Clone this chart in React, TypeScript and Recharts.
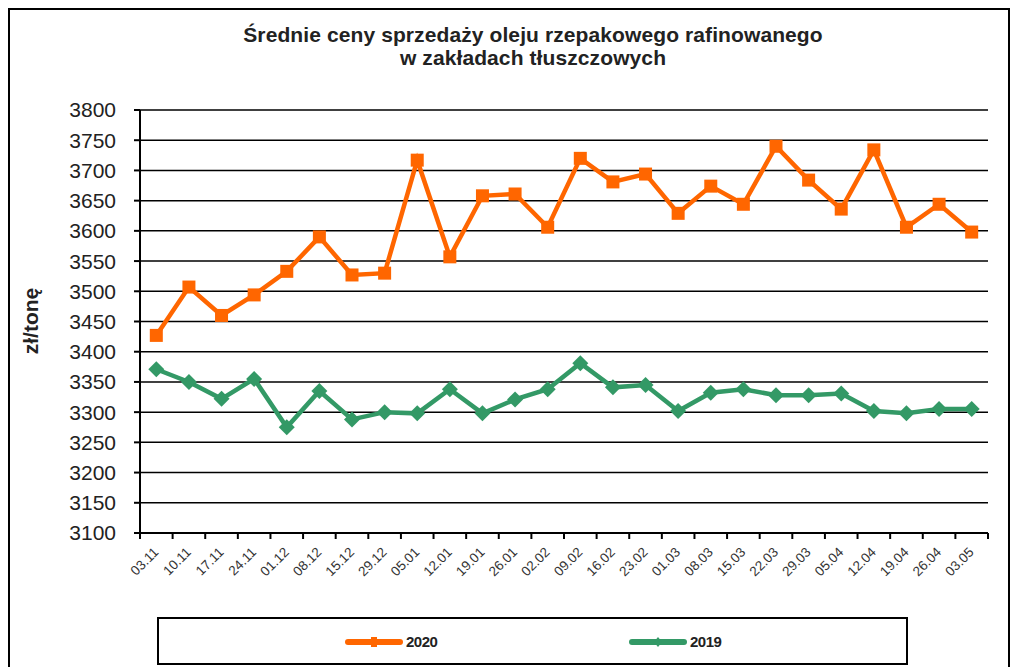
import { CartesianGrid, Line, LineChart, XAxis, YAxis } from "recharts";

const categories = [
  "03.11", "10.11", "17.11", "24.11", "01.12", "08.12", "15.12", "29.12",
  "05.01", "12.01", "19.01", "26.01", "02.02", "09.02", "16.02", "23.02",
  "01.03", "08.03", "15.03", "22.03", "29.03", "05.04", "12.04", "19.04",
  "26.04", "03.05",
];

const prices2020 = [
  3427, 3507, 3460, 3494, 3533, 3590, 3527, 3530, 3717, 3557, 3658, 3661,
  3606, 3720, 3681, 3694, 3629, 3674, 3644, 3740, 3684, 3636, 3734, 3606,
  3644, 3598,
];

const prices2019 = [
  3371, 3350, 3322, 3355, 3275, 3335, 3288, 3300, 3298, 3338, 3298, 3321,
  3338, 3381, 3341, 3345, 3302, 3332, 3338, 3328, 3328, 3331, 3302, 3298,
  3305, 3305,
];

const yTicks = [
  3100, 3150, 3200, 3250, 3300, 3350, 3400, 3450, 3500, 3550, 3600, 3650,
  3700, 3750, 3800,
];

const titleLines = [
  "Średnie ceny sprzedaży oleju rzepakowego rafinowanego",
  "w zakładach tłuszczowych",
];

const ORANGE = "#ff6600";
const GREEN = "#339966";
const FONT = '"Liberation Sans", Arial, sans-serif';

const data = categories.map((week, i) => ({
  week,
  y2020: prices2020[i],
  y2019: prices2019[i],
}));

// half of one category band (plot width 848 / 26 categories)
const HALF_BAND = 848 / 26 / 2;

function XTick(props: any) {
  const { x, y, payload, index } = props;
  const tx = x + 3;
  const ty = y + 20;
  return (
    <g>
      <line x1={x - HALF_BAND} y1={y} x2={x - HALF_BAND} y2={y + 6} stroke="#000" strokeWidth={2} />
      {index === categories.length - 1 && (
        <line x1={x + HALF_BAND} y1={y} x2={x + HALF_BAND} y2={y + 6} stroke="#000" strokeWidth={2} />
      )}
      <text
        x={tx}
        y={ty}
        transform={`rotate(-45 ${tx} ${ty})`}
        textAnchor="end"
        fontSize={13.5}
        fontFamily={FONT}
        fill="#333"
      >
        {payload.value}
      </text>
    </g>
  );
}

function SquareDot(props: any) {
  const { cx, cy, index } = props;
  if (cx == null || cy == null) return null;
  return <rect key={`sq-${index}`} x={cx - 6.5} y={cy - 6.5} width={13} height={13} fill={ORANGE} />;
}

function DiamondDot(props: any) {
  const { cx, cy, index } = props;
  if (cx == null || cy == null) return null;
  const r = 8;
  return (
    <polygon
      key={`dm-${index}`}
      points={`${cx},${cy - r} ${cx + r},${cy} ${cx},${cy + r} ${cx - r},${cy}`}
      fill={GREEN}
    />
  );
}

function LegendItem({ color, label, square }: { color: string; label: string; square: boolean }) {
  return (
    <div style={{ display: "flex", alignItems: "center" }}>
      <svg width={58} height={14}>
        <line x1={3} y1={7} x2={55} y2={7} stroke={color} strokeWidth={6} strokeLinecap="round" />
        {square ? (
          <rect x={26} y={2} width={6} height={10} fill={color} />
        ) : (
          <polygon points="29,2 33,7 29,12 25,7" fill={color} />
        )}
      </svg>
      <span style={{ fontWeight: "bold", fontSize: 15, marginLeft: 3, color: "#222", letterSpacing: -0.5 }}>
        {label}
      </span>
    </div>
  );
}

export default function App() {
  return (
    <div
      style={{
        position: "fixed",
        left: 0,
        top: 0,
        width: 1014,
        height: 667,
        background: "#fff",
        fontFamily: FONT,
        overflow: "hidden",
      }}
    >
      <div
        style={{
          position: "absolute",
          left: 8,
          top: 8,
          width: 1002,
          height: 720,
          border: "2px solid #000",
          boxSizing: "border-box",
        }}
      />
      <div
        style={{
          position: "absolute",
          left: 183,
          top: 23,
          width: 700,
          textAlign: "center",
          fontWeight: "bold",
          fontSize: 21,
          lineHeight: "23px",
          color: "#222",
          letterSpacing: 0.1,
        }}
      >
        {titleLines.map((t) => (
          <div key={t}>{t}</div>
        ))}
      </div>
      <div style={{ position: "absolute", left: 0, top: 0 }}>
        <LineChart width={1014} height={667} data={data} margin={{ top: 110, right: 26, bottom: 74, left: 80 }}>
          <CartesianGrid horizontal vertical={false} stroke="#000" strokeWidth={1.5} />
          <XAxis
            dataKey="week"
            height={60}
            interval={0}
            padding={{ left: HALF_BAND, right: HALF_BAND }}
            tickSize={0}
            tickMargin={0}
            tickLine={false}
            axisLine={{ stroke: "#000", strokeWidth: 2 }}
            tick={<XTick />}
          />
          <XAxis xAxisId="top" orientation="top" dataKey="week" height={0} tick={false} tickLine={false} axisLine={{ stroke: "#8c8c8c", strokeWidth: 2 }} />
          <YAxis
            domain={[3100, 3800]}
            ticks={yTicks}
            interval={0}
            width={60}
            tickSize={6}
            tickMargin={18}
            tickLine={{ stroke: "#000", strokeWidth: 2 }}
            axisLine={{ stroke: "#000", strokeWidth: 2 }}
            tick={{ fontSize: 21, fill: "#222", fontFamily: FONT }}
            label={{
              content: () => (
                <text
                  x={38}
                  y={321}
                  transform="rotate(-90 38 321)"
                  textAnchor="middle"
                  fontSize={21}
                  fontWeight="bold"
                  fontFamily={FONT}
                  fill="#222"
                >
                  zł/tonę
                </text>
              ),
            }}
          />
          <YAxis yAxisId="right" orientation="right" width={0} domain={[3100, 3800]} tick={false} tickLine={false} axisLine={{ stroke: "#8c8c8c", strokeWidth: 2 }} />
          <Line
            type="linear"
            dataKey="y2020"
            name="2020"
            stroke={ORANGE}
            strokeWidth={4.5}
            dot={<SquareDot />}
            activeDot={false}
            isAnimationActive={false}
          />
          <Line
            type="linear"
            dataKey="y2019"
            name="2019"
            stroke={GREEN}
            strokeWidth={4.5}
            dot={<DiamondDot />}
            activeDot={false}
            isAnimationActive={false}
          />
        </LineChart>
      </div>
      <div
        style={{
          position: "absolute",
          left: 157,
          top: 617,
          width: 751,
          height: 48,
          border: "2px solid #000",
          boxSizing: "border-box",
        }}
      >
        <div style={{ position: "absolute", left: 186, top: 14 }}>
          <LegendItem color={ORANGE} label="2020" square />
        </div>
        <div style={{ position: "absolute", left: 470, top: 14 }}>
          <LegendItem color={GREEN} label="2019" square={false} />
        </div>
      </div>
    </div>
  );
}
